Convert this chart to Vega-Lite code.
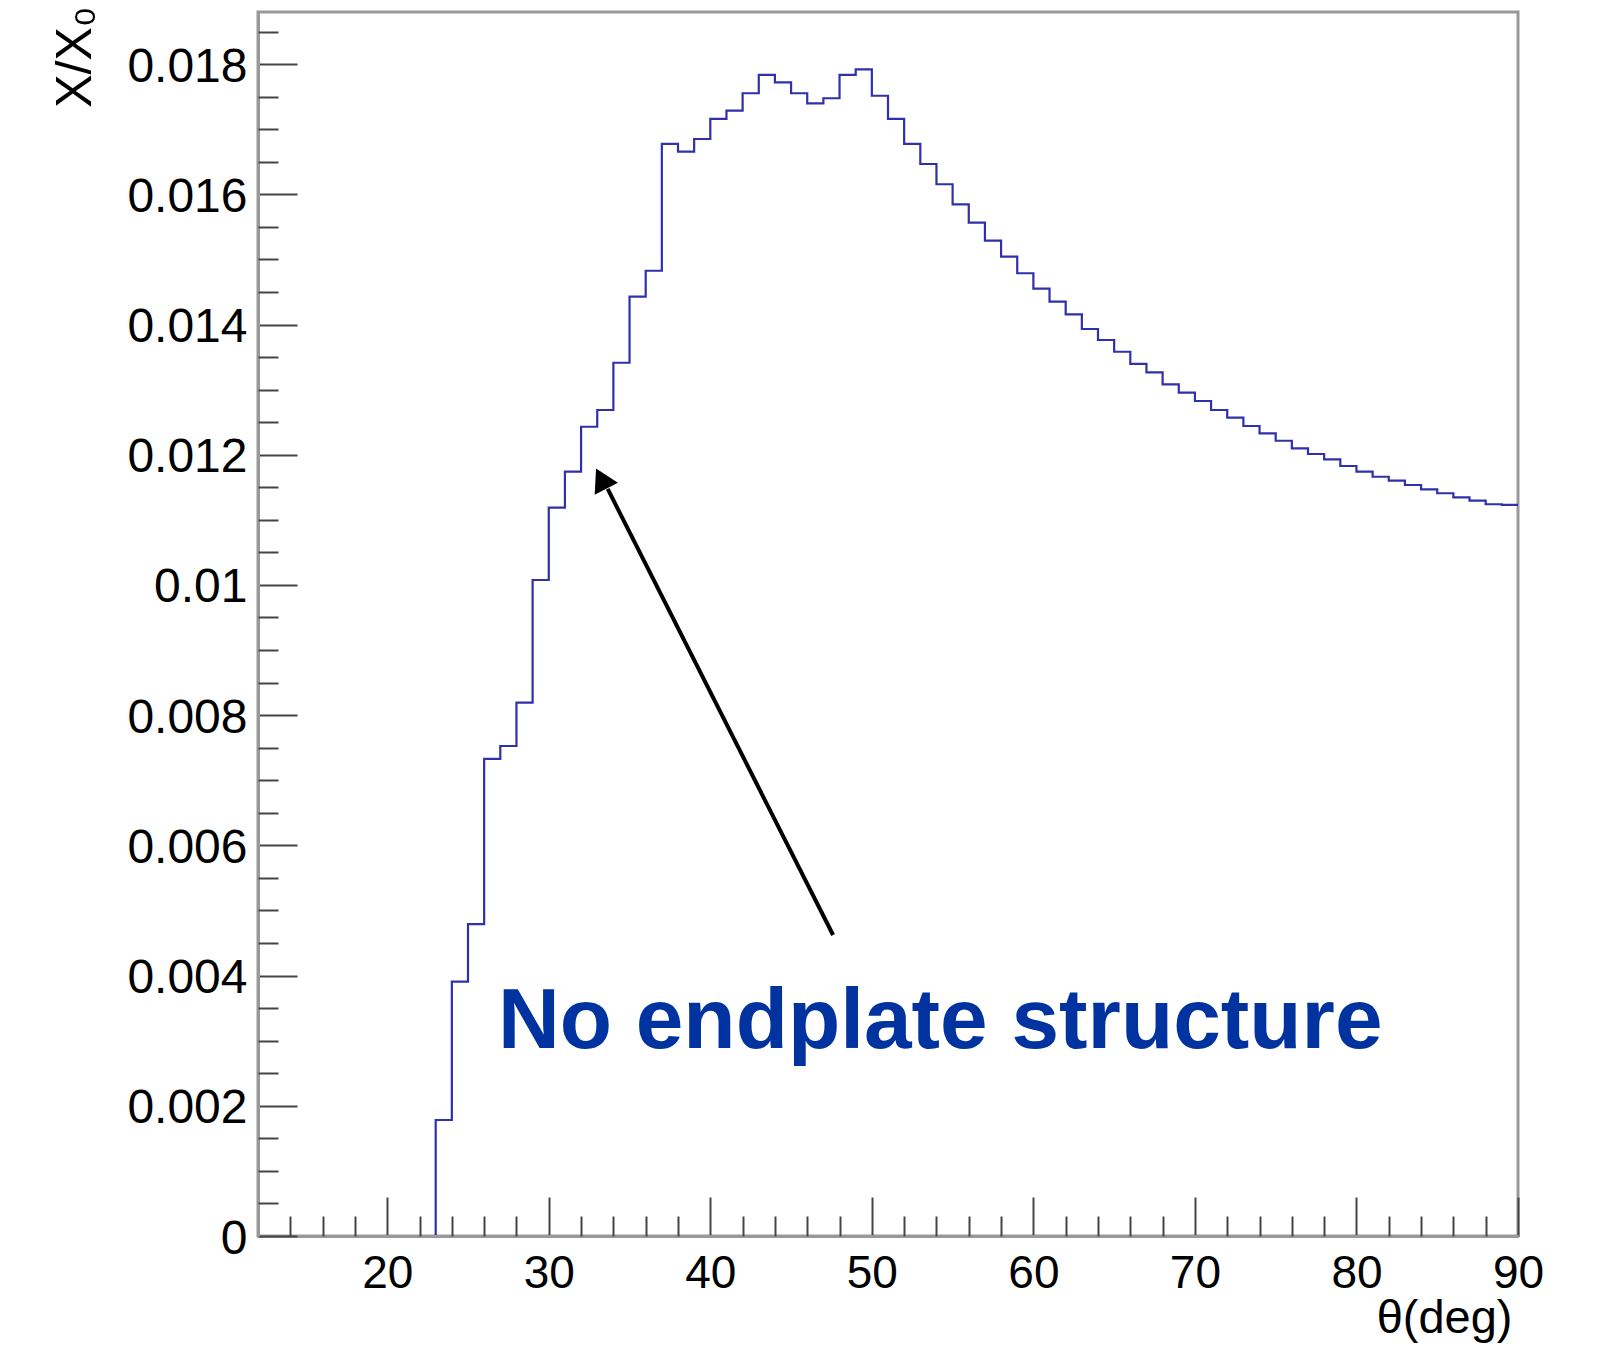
{
  "$schema": "https://vega.github.io/schema/vega-lite/v6.json",
  "width": 1260,
  "height": 1224,
  "autosize": {"type": "none"},
  "padding": {"left": 258, "top": 12, "right": 80, "bottom": 116},
  "background": "white",
  "config": {
    "view": {"stroke": "#999999", "strokeWidth": 3},
    "font": "Liberation Sans"
  },
  "datasets": {
    "hist": [
      {"theta": 12, "xx0": 0}, {"theta": 13, "xx0": 0}, {"theta": 14, "xx0": 0}, {"theta": 15, "xx0": 0},
      {"theta": 16, "xx0": 0}, {"theta": 17, "xx0": 0}, {"theta": 18, "xx0": 0}, {"theta": 19, "xx0": 0},
      {"theta": 20, "xx0": 0}, {"theta": 21, "xx0": 0}, {"theta": 22, "xx0": 0},
      {"theta": 23, "xx0": 0.001782}, {"theta": 24, "xx0": 0.003906}, {"theta": 25, "xx0": 0.00479},
      {"theta": 26, "xx0": 0.007327}, {"theta": 27, "xx0": 0.007526}, {"theta": 28, "xx0": 0.008191},
      {"theta": 29, "xx0": 0.010076}, {"theta": 30, "xx0": 0.011186}, {"theta": 31, "xx0": 0.011739},
      {"theta": 32, "xx0": 0.01243}, {"theta": 33, "xx0": 0.012687}, {"theta": 34, "xx0": 0.013413},
      {"theta": 35, "xx0": 0.014427}, {"theta": 36, "xx0": 0.014826}, {"theta": 37, "xx0": 0.016773},
      {"theta": 38, "xx0": 0.016655}, {"theta": 39, "xx0": 0.016849}, {"theta": 40, "xx0": 0.017157},
      {"theta": 41, "xx0": 0.017284}, {"theta": 42, "xx0": 0.017552}, {"theta": 43, "xx0": 0.017833},
      {"theta": 44, "xx0": 0.01772}, {"theta": 45, "xx0": 0.017552}, {"theta": 46, "xx0": 0.017398},
      {"theta": 47, "xx0": 0.017475}, {"theta": 48, "xx0": 0.017833}, {"theta": 49, "xx0": 0.01792},
      {"theta": 50, "xx0": 0.017514}, {"theta": 51, "xx0": 0.017157}, {"theta": 52, "xx0": 0.016773},
      {"theta": 53, "xx0": 0.016465}, {"theta": 54, "xx0": 0.016154}, {"theta": 55, "xx0": 0.015846},
      {"theta": 56, "xx0": 0.015564}, {"theta": 57, "xx0": 0.015287}, {"theta": 58, "xx0": 0.015042},
      {"theta": 59, "xx0": 0.014787}, {"theta": 60, "xx0": 0.01455}, {"theta": 61, "xx0": 0.01435},
      {"theta": 62, "xx0": 0.014157}, {"theta": 63, "xx0": 0.013931}, {"theta": 64, "xx0": 0.013762},
      {"theta": 65, "xx0": 0.013582}, {"theta": 66, "xx0": 0.013394}, {"theta": 67, "xx0": 0.013266},
      {"theta": 68, "xx0": 0.013082}, {"theta": 69, "xx0": 0.012953}, {"theta": 70, "xx0": 0.012825},
      {"theta": 71, "xx0": 0.012687}, {"theta": 72, "xx0": 0.012569}, {"theta": 73, "xx0": 0.012441},
      {"theta": 74, "xx0": 0.012329}, {"theta": 75, "xx0": 0.012215}, {"theta": 76, "xx0": 0.012099},
      {"theta": 77, "xx0": 0.012011}, {"theta": 78, "xx0": 0.01193}, {"theta": 79, "xx0": 0.011827},
      {"theta": 80, "xx0": 0.011739}, {"theta": 81, "xx0": 0.011662}, {"theta": 82, "xx0": 0.011601},
      {"theta": 83, "xx0": 0.011535}, {"theta": 84, "xx0": 0.011469}, {"theta": 85, "xx0": 0.011408},
      {"theta": 86, "xx0": 0.011346}, {"theta": 87, "xx0": 0.011294}, {"theta": 88, "xx0": 0.011239},
      {"theta": 89, "xx0": 0.01123}, {"theta": 90, "xx0": 0.01123}
    ],
    "arrow": [{"x1": 47.6, "y1": 0.004623, "x2": 33.65, "y2": 0.011474}],
    "head": [{"x": 33.245, "y": 0.011632}],
    "note": [{"x": 26.85, "y": 0.00288, "label": "No endplate structure"}]
  },
  "resolve": {"axis": {"x": "independent", "y": "independent"}},
  "layer": [
    {
      "data": {"name": "hist"},
      "mark": {"type": "line", "interpolate": "step-after", "color": "#3030aa", "strokeWidth": 2.2},
      "encoding": {
        "x": {
          "field": "theta", "type": "quantitative",
          "scale": {"domain": [12, 90], "nice": false, "zero": false},
          "axis": {
            "orient": "bottom", "values": [20, 30, 40, 50, 60, 70, 80, 90],
            "format": "d", "tickSize": -39, "tickWidth": 2, "tickColor": "#444444",
            "labelFontSize": 46, "labelColor": "black", "labelPadding": 54, "labelFlush": false,
            "labelOverlap": false, "labelBaseline": "top",
            "domain": true, "domainColor": "#999999", "domainWidth": 3, "grid": false, "zindex": 1,
            "title": "θ(deg)", "titleFontSize": 47, "titleFontWeight": "normal", "titleColor": "black",
            "titleAnchor": "end", "titleAlign": "right", "titleBaseline": "alphabetic",
            "titleX": 1254, "titleY": 96
          }
        },
        "y": {
          "field": "xx0", "type": "quantitative",
          "scale": {"domain": [0, 0.0188], "nice": false, "zero": true},
          "axis": {
            "orient": "left",
            "values": [0, 0.002, 0.004, 0.006, 0.008, 0.01, 0.012, 0.014, 0.016, 0.018],
            "format": "~g", "tickSize": -39, "tickWidth": 2, "tickColor": "#444444",
            "labelFontSize": 48, "labelColor": "black", "labelPadding": 50, "labelFlush": false,
            "labelOverlap": false, "labelBaseline": "middle", "labelOffset": 3,
            "domain": true, "domainColor": "#999999", "domainWidth": 3, "grid": false, "zindex": 1,
            "title": "X/X₀", "titleFontSize": 50, "titleFontWeight": "normal", "titleColor": "black",
            "titleAngle": -90, "titleAnchor": "end", "titleAlign": "right", "titleBaseline": "alphabetic",
            "titleX": -168, "titleY": -6
          }
        }
      }
    },
    {
      "data": {"name": "hist"},
      "mark": {"type": "line", "interpolate": "step-after", "opacity": 0},
      "encoding": {
        "x": {
          "field": "theta", "type": "quantitative",
          "scale": {"domain": [12, 90], "nice": false, "zero": false},
          "axis": {
            "orient": "bottom",
            "values": [14, 16, 18, 22, 24, 26, 28, 32, 34, 36, 38, 42, 44, 46, 48, 52, 54, 56, 58, 62, 64, 66, 68, 72, 74, 76, 78, 82, 84, 86, 88],
            "tickSize": -20, "tickWidth": 2, "tickColor": "#444444",
            "labels": false, "domain": false, "grid": false, "title": null, "zindex": 1
          }
        },
        "y": {
          "field": "xx0", "type": "quantitative",
          "scale": {"domain": [0, 0.0188], "nice": false, "zero": true},
          "axis": {
            "orient": "left",
            "values": [0.0005, 0.001, 0.0015, 0.0025, 0.003, 0.0035, 0.0045, 0.005, 0.0055, 0.0065, 0.007, 0.0075, 0.0085, 0.009, 0.0095, 0.0105, 0.011, 0.0115, 0.0125, 0.013, 0.0135, 0.0145, 0.015, 0.0155, 0.0165, 0.017, 0.0175, 0.0185],
            "tickSize": -20, "tickWidth": 2, "tickColor": "#444444",
            "labels": false, "domain": false, "grid": false, "title": null, "zindex": 1
          }
        }
      }
    },
    {
      "data": {"name": "arrow"},
      "mark": {"type": "rule", "color": "black", "strokeWidth": 4, "strokeCap": "butt"},
      "encoding": {
        "x": {"field": "x1", "type": "quantitative", "scale": {"domain": [12, 90], "nice": false, "zero": false}, "axis": null},
        "y": {"field": "y1", "type": "quantitative", "scale": {"domain": [0, 0.0188], "nice": false, "zero": true}, "axis": null},
        "x2": {"field": "x2"},
        "y2": {"field": "y2"}
      }
    },
    {
      "data": {"name": "head"},
      "mark": {"type": "point", "shape": "triangle-up", "filled": true, "color": "black", "opacity": 1, "size": 680, "angle": 333},
      "encoding": {
        "x": {"field": "x", "type": "quantitative", "scale": {"domain": [12, 90], "nice": false, "zero": false}, "axis": null},
        "y": {"field": "y", "type": "quantitative", "scale": {"domain": [0, 0.0188], "nice": false, "zero": true}, "axis": null}
      }
    },
    {
      "data": {"name": "note"},
      "mark": {"type": "text", "font": "Liberation Sans", "fontWeight": "bold", "fontSize": 85.6, "color": "#0033a0", "align": "left", "baseline": "alphabetic"},
      "encoding": {
        "x": {"field": "x", "type": "quantitative", "scale": {"domain": [12, 90], "nice": false, "zero": false}, "axis": null},
        "y": {"field": "y", "type": "quantitative", "scale": {"domain": [0, 0.0188], "nice": false, "zero": true}, "axis": null},
        "text": {"field": "label"}
      }
    }
  ]
}
